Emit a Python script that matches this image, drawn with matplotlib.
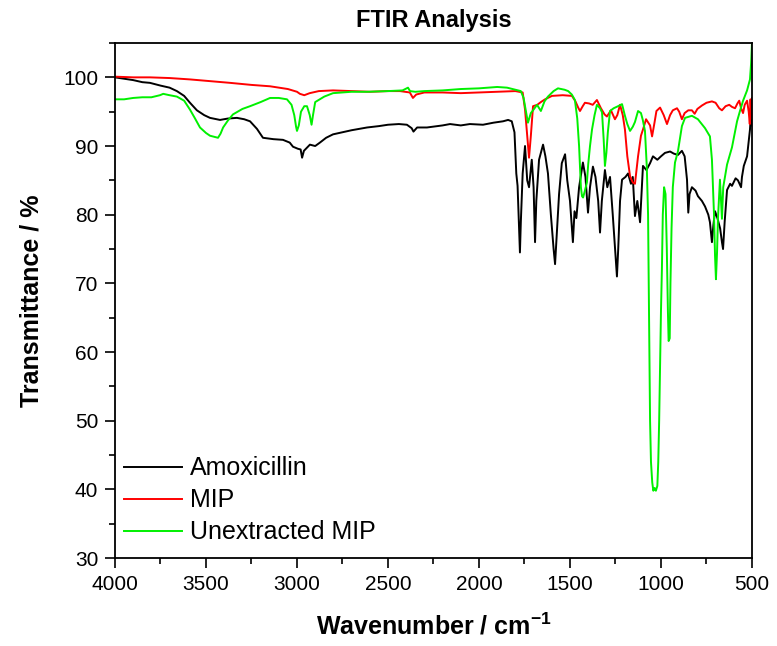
import numpy as np
import matplotlib
matplotlib.use('Agg')
import matplotlib.pyplot as plt
from matplotlib.ticker import MultipleLocator

plt.rcParams['font.family'] = ['Liberation Sans', 'DejaVu Sans']

# ─── Spectra (wavenumber cm-1, transmittance %) ────────────────────────────────
amox_wn = [4000, 3950, 3900, 3850, 3808, 3750, 3700, 3660, 3620, 3588, 3550, 3510,
           3478, 3423, 3380, 3330, 3290, 3258, 3220, 3187, 3130, 3077, 3040, 3022,
           2995, 2980, 2972, 2962, 2929, 2900, 2874, 2840, 2802, 2750, 2700, 2615,
           2550, 2500, 2440, 2396, 2370, 2360, 2340, 2286, 2200, 2159, 2100, 2050,
           1978, 1920, 1868, 1840, 1820, 1805, 1795, 1788, 1780, 1775, 1770, 1760,
           1747, 1735, 1725, 1710, 1700, 1692, 1685, 1670, 1648, 1635, 1621, 1605,
           1590, 1582, 1575, 1560, 1545, 1527, 1515, 1500, 1484, 1475, 1465, 1450,
           1429, 1415, 1401, 1390, 1374, 1360, 1345, 1335, 1325, 1308, 1295, 1280,
           1265, 1250, 1242, 1235, 1225, 1214, 1195, 1181, 1165, 1155, 1143, 1130,
           1115, 1105, 1099, 1080, 1060, 1044, 1020, 1000, 978, 950, 930, 907,
           885, 870, 857, 850, 843, 830, 810, 797, 775, 758, 740, 731,
           720, 712, 703, 690, 675, 665, 659, 650, 637, 620, 610, 590,
           577, 560, 555, 545, 527, 515, 511, 505, 500]
amox_t = [100.0, 99.8, 99.6, 99.3, 99.2, 98.8, 98.5, 98.0, 97.3, 96.3, 95.2, 94.5,
          94.1, 93.8, 94.0, 94.1, 93.9, 93.6, 92.5, 91.2, 91.0, 90.9, 90.5, 89.9,
          89.6, 89.5, 88.3, 89.3, 90.2, 90.0, 90.5, 91.2, 91.7, 92.0, 92.3, 92.7,
          92.9, 93.1, 93.2, 93.1, 92.6, 92.1, 92.7, 92.7, 93.0, 93.2, 93.0, 93.2,
          93.1, 93.4, 93.6, 93.8, 93.6, 92.0, 86.0, 84.2, 78.0, 74.5, 79.0, 86.0,
          90.0, 85.0, 84.0, 88.0, 84.0, 76.0, 82.0, 88.0, 90.2, 88.5, 86.0, 80.0,
          75.0, 72.8, 76.0, 83.0, 87.5, 88.8, 85.0, 82.0, 76.0, 80.5, 79.5, 84.0,
          87.6, 85.5, 80.3, 84.0, 87.0, 85.5, 82.0, 77.4, 82.0, 86.5, 84.0, 85.5,
          80.0, 74.0, 71.0, 75.0, 82.0, 85.1, 85.5, 86.0, 84.5, 85.5, 79.8, 82.0,
          78.9, 84.0, 87.1, 86.5, 87.5, 88.5, 88.0, 88.5, 89.0, 89.2, 88.9, 88.7,
          89.3, 88.5, 85.1, 80.3, 83.0, 84.0, 83.5, 82.7, 82.0, 81.2, 80.0, 78.9,
          76.0, 78.5, 80.5, 79.5, 78.0, 76.0, 75.0, 79.0, 83.6, 84.5, 84.2, 85.3,
          85.0, 84.0, 85.5, 87.1, 88.5, 91.5, 92.4, 94.8, 93.0]

mip_wn = [4000, 3900, 3808, 3700, 3588, 3500, 3368, 3250, 3148, 3050, 3000, 2984,
          2960, 2930, 2880, 2802, 2700, 2600, 2500, 2434, 2380, 2363, 2345, 2300,
          2200, 2100, 2000, 1900, 1800, 1760, 1747, 1735, 1725, 1715, 1703, 1680,
          1660, 1637, 1599, 1540, 1489, 1470, 1455, 1445, 1430, 1418, 1395, 1375,
          1352, 1330, 1310, 1297, 1275, 1253, 1240, 1225, 1210, 1198, 1185, 1170,
          1155, 1143, 1126, 1110, 1099, 1082, 1060, 1049, 1035, 1025, 1005, 985,
          967, 950, 935, 912, 900, 885, 870, 850, 830, 815, 800, 775,
          750, 720, 700, 680, 665, 645, 625, 610, 593, 580, 570, 560,
          549, 540, 527, 518, 512, 508, 503, 500]
mip_t = [100.1, 100.0, 100.0, 99.9, 99.7, 99.5, 99.2, 98.9, 98.7, 98.3, 97.9, 97.6,
         97.4, 97.7, 98.0, 98.1, 98.0, 97.9, 98.0, 98.0, 97.8, 97.0, 97.5, 97.8,
         97.8, 97.7, 97.8, 97.9, 98.0, 97.8, 95.3, 91.5, 88.3, 91.5, 95.8, 96.0,
         96.4, 96.8, 97.3, 97.4, 97.3, 96.5, 95.6, 95.1, 95.8, 96.3, 96.2, 96.0,
         96.7, 95.5, 94.6, 94.3, 95.2, 93.9, 94.5, 96.0, 94.5, 92.4, 88.5, 85.6,
         84.7, 84.5, 88.5, 91.5, 92.4, 93.9, 93.0, 91.4, 93.5, 95.1, 95.6, 94.5,
         93.2, 94.5, 95.2, 95.5, 95.0, 93.9, 94.8, 95.2, 95.2, 94.7, 95.4, 95.9,
         96.3, 96.5, 96.3, 95.5, 95.2, 95.8, 96.0, 95.7, 95.5, 96.2, 96.6, 95.5,
         94.8, 96.0, 96.6, 95.0, 93.2, 96.8, 94.0, 97.0]

unext_wn = [4000, 3950, 3900, 3850, 3800, 3753, 3735, 3700, 3660, 3620, 3588, 3560,
            3533, 3500, 3478, 3450, 3434, 3420, 3406, 3380, 3352, 3300, 3258, 3200,
            3148, 3100, 3055, 3030, 3015, 3005, 3000, 2990, 2978, 2960, 2945, 2930,
            2920, 2912, 2900, 2850, 2802, 2700, 2615, 2500, 2420, 2390, 2379, 2350,
            2300, 2200, 2100, 2000, 1950, 1900, 1846, 1800, 1770, 1755, 1745, 1731,
            1715, 1703, 1681, 1660, 1640, 1621, 1590, 1566, 1530, 1510, 1490, 1473,
            1460, 1450, 1440, 1434, 1428, 1418, 1407, 1400, 1390, 1379, 1365, 1352,
            1335, 1324, 1315, 1308, 1300, 1292, 1280, 1260, 1236, 1214, 1198, 1185,
            1170, 1155, 1143, 1126, 1110, 1100, 1088, 1078, 1071, 1068, 1064, 1060,
            1055, 1048, 1042, 1035, 1028, 1020, 1015, 1010, 1005, 1000, 995, 990,
            983, 975, 968, 962, 958, 952, 948, 942, 935, 923, 907, 885,
            868, 830, 797, 758, 731, 720, 709, 703, 698, 692, 687, 676,
            665, 658, 637, 610, 582, 566, 549, 527, 511, 505, 500]
unext_t = [96.8, 96.8, 97.0, 97.1, 97.1, 97.4, 97.6, 97.4, 97.2, 96.6, 95.3, 94.0,
           92.7, 91.9, 91.5, 91.3, 91.2, 91.8, 92.7, 93.7, 94.6, 95.4, 95.8, 96.4,
           97.0, 97.0, 96.8, 96.0, 94.5, 92.8, 92.2, 93.0, 95.0, 95.8, 95.8, 94.5,
           93.1, 94.5, 96.4, 97.2, 97.7, 97.9, 97.9, 98.0, 98.1, 98.5, 98.0, 97.9,
           98.0, 98.1, 98.3, 98.4, 98.5, 98.6, 98.5, 98.2, 98.0, 97.0, 95.5, 93.4,
           94.8, 95.2, 96.0, 95.1, 96.5, 97.2, 98.0, 98.4, 98.2, 98.0, 97.5, 96.7,
           94.0, 90.0, 84.0, 82.7, 82.5, 83.5, 84.7, 87.3, 90.0, 92.4, 94.5, 96.0,
           95.5, 94.9, 91.0, 87.1, 89.0, 92.0, 95.1, 95.5, 95.8, 96.1, 94.4, 93.2,
           92.2, 92.8, 93.5, 95.1, 94.8, 93.8, 92.2, 87.0, 80.0, 72.0, 60.0, 50.0,
           44.0, 41.0, 39.8, 40.2, 39.8, 40.5, 44.0, 50.0, 58.0, 66.0, 72.0, 80.0,
           84.0, 83.0, 75.0, 66.0, 61.6, 62.0, 70.0, 78.0, 84.0, 87.6, 89.2, 92.9,
           94.1, 94.4, 93.9, 92.6, 91.4, 88.0, 80.3, 74.0, 70.6, 74.5, 79.4, 85.1,
           79.4, 84.0, 87.3, 89.8, 93.6, 95.1, 96.6, 98.1, 99.7, 102.0, 105.0]

SERIES = [('Amoxicillin', amox_wn, amox_t, 'black'),
          ('MIP', mip_wn, mip_t, '#ff0000'),
          ('Unextracted MIP', unext_wn, unext_t, '#00f000')]

fig = plt.figure(figsize=(7.77, 6.46), dpi=100)
ax = fig.add_axes([0.148, 0.1362, 0.8198, 0.7972])

for label, wn, t, c in SERIES:
    ax.plot(wn, t, color=c, lw=1.4, label=label)

ax.set_xlim(4000, 500)
ax.set_ylim(30, 105)
ax.xaxis.set_major_locator(MultipleLocator(500))
ax.xaxis.set_minor_locator(MultipleLocator(250))
ax.yaxis.set_major_locator(MultipleLocator(10))
ax.yaxis.set_minor_locator(MultipleLocator(5))
ax.tick_params(which='major', direction='out', length=7, width=1.2,
               labelsize=15, pad=5, top=False, right=False)
ax.tick_params(which='minor', direction='out', length=4, width=1.2,
               top=False, right=False)
for sp in ax.spines.values():
    sp.set_linewidth(1.3)

ax.set_xlabel('Wavenumber / cm$^{\\mathregular{-1}}$', fontsize=18, fontweight='bold', labelpad=14)
ax.set_ylabel('Transmittance / %', fontsize=18, fontweight='bold', labelpad=14)
fig.text(0.558, 0.969, 'FTIR Analysis', ha='center', va='center',
         fontsize=17, fontweight='bold')

ax.legend(loc='lower left', bbox_to_anchor=(-0.008, 0), frameon=False,
          fontsize=18, labelspacing=0.32, handlelength=2.35, handletextpad=0.3,
          borderpad=0.2, borderaxespad=0.35)

plt.savefig('out.png', dpi=100)
plt.close()
